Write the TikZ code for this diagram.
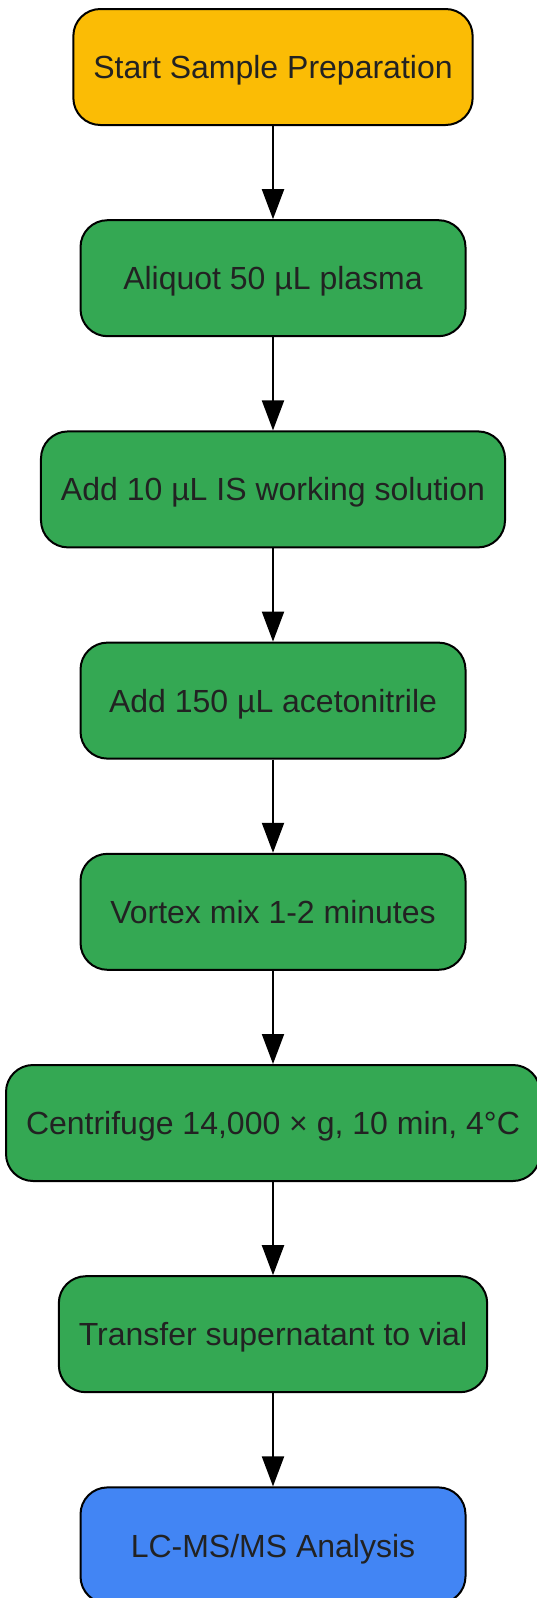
\documentclass[tikz,border=0pt]{standalone}
\usepackage{fontspec}
\setmainfont{Liberation Sans}
\usetikzlibrary{arrows.meta}
\definecolor{gyellow}{HTML}{FBBC05}
\definecolor{ggreen}{HTML}{34A853}
\definecolor{gblue}{HTML}{4285F4}
\definecolor{txt}{HTML}{222222}
\tikzset{
  box/.style={draw=black, line width=2pt, rounded corners=27pt, minimum height=116pt,
    minimum width=385pt, inner xsep=20pt, text=txt, text depth=0pt,
    font=\fontsize{32}{38}\selectfont, anchor=center},
  flow/.style={line width=2pt, -{Triangle[length=30pt,width=22pt]}}
}
\begin{document}
\begin{tikzpicture}[x=1pt,y=1pt]
\useasboundingbox (0,0) rectangle (537,-1598);
\node[box, fill=gyellow] (n0) at (273,-67) {Start Sample Preparation};
\node[box, fill=ggreen] (n1) at (273,-278.2) {Aliquot 50 µL plasma};
\node[box, fill=ggreen] (n2) at (273,-489.4) {Add 10 µL IS working solution};
\node[box, fill=ggreen] (n3) at (273,-700.6) {Add 150 µL acetonitrile};
\node[box, fill=ggreen] (n4) at (273,-911.8) {Vortex mix 1-2 minutes};
\node[box, fill=ggreen] (n5) at (273,-1123) {Centrifuge 14,000 × g, 10 min, 4°C};
\node[box, fill=ggreen] (n6) at (273,-1334.2) {Transfer supernatant to vial};
\node[box, fill=gblue] (n7) at (273,-1545.4) {LC-MS/MS Analysis};
\foreach \a/\b in {n0/n1,n1/n2,n2/n3,n3/n4,n4/n5,n5/n6,n6/n7}
  \draw[flow] (\a.south) -- (\b.north);
\end{tikzpicture}
\end{document}
